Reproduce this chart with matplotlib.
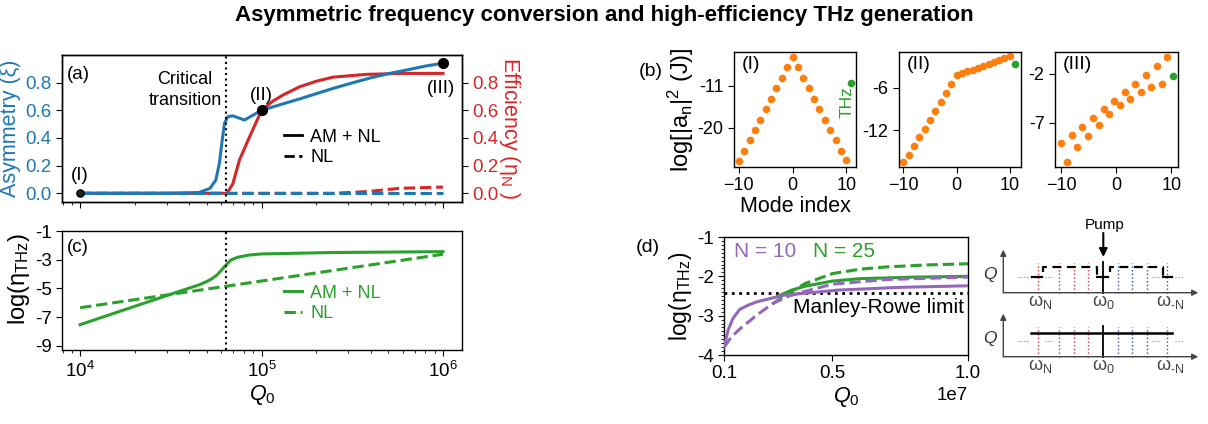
import numpy as np
import matplotlib
matplotlib.use("Agg")
import matplotlib.pyplot as plt
from matplotlib.ticker import MultipleLocator, NullFormatter, LogLocator

BLUE = "#1f77b4"
RED = "#d62728"
GREEN = "#2ca02c"
ORANGE = "#ff7f0e"
PURPLE = "#9467bd"
GREY = "#444444"

plt.rcParams.update({
    "font.family": ["Liberation Sans", "DejaVu Sans"],
    "font.size": 12.5,
    "mathtext.fontset": "custom",
    "mathtext.rm": "Liberation Sans",
    "mathtext.it": "Liberation Sans:italic",
    "axes.linewidth": 1.0,
    "xtick.major.size": 4,
    "ytick.major.size": 4,
    "xtick.minor.size": 2.5,
    "ytick.minor.size": 2.5,
    "xtick.labelsize": 12.5,
    "ytick.labelsize": 12.5,
    "lines.linewidth": 2.2,
})
LABEL = 15.5

# ---------------- data: panel (a) ----------------
q_asym = [1e4, 3e4, 4.5e4, 5.2e4, 5.6e4, 5.86e4, 6.07e4, 6.25e4, 6.52e4, 6.95e4,
          8.05e4, 1e5, 1.3e5, 1.6e5, 2e5, 2.5e5, 3.2e5, 4e5, 5e5, 6.5e5, 8e5, 1e6]
asym_amnl = [0.0, 0.0, 0.005, 0.036, 0.096, 0.22, 0.385, 0.506, 0.554, 0.56,
             0.53, 0.60, 0.645, 0.68, 0.72, 0.76, 0.80, 0.835, 0.865, 0.895, 0.92, 0.94]
q_asym_nl = [1e4, 1e6]
asym_nl = [0.0, 0.0]

q_eff = [1e4, 6.45e4, 6.95e4, 7.55e4, 8.6e4, 1e5, 1.15e5, 1.31e5, 1.62e5, 2e5, 2.48e5,
         3.78e5, 6e5, 1e6]
eff_amnl = [0.0, 0.0, 0.07, 0.24, 0.41, 0.60, 0.665, 0.71, 0.77, 0.81, 0.84,
            0.86, 0.867, 0.867]
q_eff_nl = [1e4, 2.5e5, 3.8e5, 5.8e5, 1e6]
eff_nl = [0.0, 0.0, 0.012, 0.036, 0.045]

q_marks = [1e4, 1e5, 1e6]
asym_marks = [0.0, 0.60, 0.94]
mark_labels = ["(I)", "(II)", "(III)"]
q_critical = 6.4e4

# ---------------- data: panel (c) ----------------
q_thz = [1e4, 1.95e4, 3.52e4, 4e4, 4.54e4, 5.0e4, 5.38e4, 5.7e4, 5.99e4, 6.38e4, 6.8e4,
         7.4e4, 8.5e4, 1e5, 2.48e5, 1e6]
thz_amnl = [-7.53, -6.3, -5.21, -4.98, -4.75, -4.52, -4.29, -4.05, -3.75, -3.36, -3.01,
            -2.83, -2.68, -2.6, -2.5, -2.44]
q_thz_nl = [1e4, 6.4e4, 1e6]
thz_nl = [-6.35, -4.85, -2.62]

# ---------------- data: panel (b) ----------------
mode_I = list(range(-10, 11))
pwr_I = [-27.3, -25.0, -22.7, -20.5, -18.3, -16.0, -13.8, -11.5, -9.2, -7.0, -4.7,
         -7.0, -9.2, -11.5, -13.8, -16.0, -18.3, -20.5, -22.7, -25.0, -27.0]
thz_I = (10.9, -10.35)

mode_II = list(range(-10, 11))
pwr_II = [-16.45, -15.51, -14.2, -12.98, -11.76, -10.49, -9.23, -8.02, -6.75, -5.53, -4.22,
          -3.98, -3.72, -3.46, -3.20, -2.94, -2.68, -2.42, -2.15, -1.88, -1.59]
thz_II = (11.0, -2.62)

mode_III = [-10.0, -8.97, -8.0, -7.09, -6.12, -5.15, -4.18, -3.21, -2.24, -1.27, -0.36,
            0.61, 1.58, 2.55, 3.45, 4.48, 5.45, 6.36, 7.33, 8.3, 9.21]
pwr_III = [-9.08, -10.98, -8.27, -9.52, -7.41, -8.33, -6.53, -7.21, -5.64, -6.12, -4.76,
           -5.24, -3.87, -4.59, -3.02, -3.91, -2.14, -3.37, -1.22, -3.06, -0.31]
thz_III = (10.24, -2.24)

# ---------------- data: panel (d) ----------------
q_n10_amnl = [1e6, 1.15e6, 1.33e6, 1.58e6, 1.9e6, 2.2e6, 3.2e6, 5.2e6, 7.5e6, 1e7]
n10_amnl = [-3.8, -3.37, -3.07, -2.84, -2.73, -2.65, -2.48, -2.35, -2.28, -2.24]
q_n10_nl = [1e6, 1.3e6, 1.6e6, 2.2e6, 2.8e6, 3.4e6, 4e6, 5e6, 7e6, 1e7]
n10_nl = [-3.8, -3.52, -3.33, -2.99, -2.69, -2.5, -2.38, -2.2, -2.08, -2.02]
q_n25_amnl = [3e6, 3.5e6, 4e6, 5e6, 6e6, 8e6, 1e7]
n25_amnl = [-2.5, -2.35, -2.25, -2.12, -2.06, -2.02, -2.0]
q_n25_nl = [2.8e6, 3e6, 3.5e6, 4e6, 5e6, 6e6, 7e6, 8.5e6, 1e7]
n25_nl = [-2.7, -2.6, -2.38, -2.18, -1.93, -1.82, -1.76, -1.71, -1.68]
manley_rowe = -2.42

W, H = 1208, 424
fig = plt.figure(figsize=(W / 100, H / 100), dpi=100)


def box(x0, y0, x1, y1):
    return [x0 / W, 1 - y1 / H, (x1 - x0) / W, (y1 - y0) / H]


# ================= panel (a) =================
axa = fig.add_axes(box(62, 55, 462, 202))
axa.set_xscale("log")
axa.set_xlim(10 ** 3.9, 10 ** 6.105)
axa.set_ylim(-0.063, 1.0)
axa.plot(q_asym, asym_amnl, color=BLUE, zorder=4)
axa.plot(q_asym_nl, asym_nl, color=BLUE, ls="--", zorder=4)
axa.axvline(q_critical, color="k", ls=":", lw=1.5, zorder=5)
axa.set_yticks([0.0, 0.2, 0.4, 0.6, 0.8])
axa.tick_params(axis="y", labelcolor=BLUE, labelsize=13.5)
axa.xaxis.set_major_locator(LogLocator(base=10, numticks=10))
axa.xaxis.set_minor_locator(LogLocator(base=10, subs=np.arange(2, 10), numticks=20))
axa.xaxis.set_major_formatter(NullFormatter())
axa.xaxis.set_minor_formatter(NullFormatter())
axa.set_ylabel("Asymmetry (ξ)", color=BLUE, fontsize=LABEL, labelpad=3)

axr = axa.twinx()
axr.set_ylim(-0.063, 1.0)
axr.plot(q_eff, eff_amnl, color=RED, zorder=3)
axr.plot(q_eff_nl, eff_nl, color=RED, ls="--", zorder=3)
axr.set_yticks([0.0, 0.2, 0.4, 0.6, 0.8])
axr.tick_params(axis="y", labelcolor=RED, labelsize=13.5)
axr.set_ylabel("Efficiency (η$_\\mathregular{N}$ )", color=RED, fontsize=LABEL,
               rotation=270, labelpad=17)
axa.set_zorder(axr.get_zorder() + 1)
axa.patch.set_visible(False)

axa.plot(q_marks[1:], asym_marks[1:], "o", color="k", ms=7, zorder=6)
axa.plot(q_marks[:1], asym_marks[:1], "o", mfc="#222222", mec="k", mew=1.2, ms=5, zorder=6)
axa.text(q_marks[0], 0.13, mark_labels[0], ha="center", va="center", fontsize=13.5)
axa.text(q_marks[1], 0.71, mark_labels[1], ha="center", va="center", fontsize=13.5)
axa.text(q_marks[2] * 0.97, 0.76, mark_labels[2], ha="center", va="center", fontsize=13.5)
axa.text(0.0125, 0.87, "(a)", transform=axa.transAxes, ha="left", va="center", fontsize=13.5)
axa.text(0.3075, 0.76, "Critical\ntransition", transform=axa.transAxes,
         ha="center", va="center", linespacing=1.3, fontsize=13)
la, = axa.plot([], [], color="k", lw=2, label="AM + NL")
lb, = axa.plot([], [], color="k", lw=2, ls="--", label="NL")
axa.legend(handles=[la, lb], loc="center left", bbox_to_anchor=(0.555, 0.37),
           frameon=False, handlelength=1.0, handletextpad=0.45, borderpad=0,
           labelspacing=0.2, borderaxespad=0, fontsize=13)

# ================= panel (c) =================
axc = fig.add_axes(box(62, 231, 462, 350))
axc.set_xscale("log")
axc.set_xlim(10 ** 3.9, 10 ** 6.105)
axc.set_ylim(-9.3, -1)
axc.plot(q_thz, thz_amnl, color=GREEN, label="AM + NL")
axc.plot(q_thz_nl, thz_nl, color=GREEN, ls="--", label="NL")
axc.axvline(q_critical, color="k", ls=":", lw=1.5)
axc.set_yticks([-1, -3, -5, -7, -9])
axc.set_yticklabels(["-1", "-3", "-5", "-7", "-9"])
axc.tick_params(labelsize=13.5)
axc.xaxis.set_major_locator(LogLocator(base=10, numticks=10))
axc.xaxis.set_minor_locator(LogLocator(base=10, subs=np.arange(2, 10), numticks=20))
axc.xaxis.set_minor_formatter(NullFormatter())
axc.set_xlabel("$Q_0$", fontsize=LABEL, labelpad=2)
axc.set_ylabel("log(η$_\\mathregular{THz}$)", fontsize=LABEL + 1.5, labelpad=2)
axc.yaxis.set_label_coords(-0.075, 0.6)
axc.text(0.0125, 0.86, "(c)", transform=axc.transAxes, ha="left", va="center", fontsize=13.5)
leg = axc.legend(loc="center left", bbox_to_anchor=(0.555, 0.39), frameon=False,
                 handlelength=1.0, handletextpad=0.45, borderpad=0, labelspacing=0.2,
                 borderaxespad=0, fontsize=13)
for t in leg.get_texts():
    t.set_color(GREEN)

# ================= panel (b) =================
b_specs = [
    (box(734, 52, 856, 167), mode_I, pwr_I, thz_I, (-10.9, 11.8), (-28.5, -3.66), [-11, -20], "(I)"),
    (box(899, 52, 1021, 167), mode_II, pwr_II, thz_II, (-10.8, 12.1), (-17.16, -0.98), [-6, -12], "(II)"),
    (box(1055, 52, 1178, 167), mode_III, pwr_III, thz_III, (-11.1, 11.2), (-11.53, 0.2), [-2, -7], "(III)"),
]
b_axes = []
for rect, mx, my, thz, xl, yl, yt, lab in b_specs:
    ax = fig.add_axes(rect)
    ax.plot(mx, my, "o", color=ORANGE, ms=5.5, mec="none")
    ax.plot([thz[0]], [thz[1]], "o", color=GREEN, ms=5.5, mec="none")
    ax.set_xlim(*xl)
    ax.set_ylim(*yl)
    ax.set_xticks([-10, 0, 10])
    ax.set_yticks(yt)
    ax.set_yticklabels([str(v) for v in yt])
    ax.tick_params(labelsize=13)
    ax.text(0.06, 0.89, lab, transform=ax.transAxes, ha="left", va="center", fontsize=14)
    b_axes.append(ax)
b_axes[0].set_xlabel("Mode index", fontsize=LABEL, labelpad=1)
b_axes[0].set_ylabel("log[|a$_\\mathregular{n}$|$^\\mathregular{2}$ (J)]", fontsize=LABEL + 1.5,
                     labelpad=1)
b_axes[0].text(10.07, -14.45, "THz", color=GREEN, rotation=90, ha="center",
               va="center", fontsize=12.5)

# ================= panel (d) =================
axd = fig.add_axes(box(724, 237, 968, 355))
axd.plot(q_n25_nl, n25_nl, color=GREEN, ls="--", zorder=2)
axd.plot(q_n25_amnl, n25_amnl, color=GREEN, zorder=2)
axd.plot(q_n10_nl, n10_nl, color=PURPLE, ls="--", zorder=3)
axd.plot(q_n10_amnl, n10_amnl, color=PURPLE, zorder=3)
axd.axhline(manley_rowe, color="k", ls=":", lw=2, zorder=1)
axd.set_xlim(1e6, 1e7)
axd.set_ylim(-4, -1)
axd.set_xticks([1e6, 5e6, 1e7])
axd.set_yticks([-1, -2, -3, -4])
axd.set_yticklabels(["-1", "-2", "-3", "-4"])
axd.tick_params(labelsize=13.5)
axd.xaxis.get_offset_text().set_fontsize(13.5)
axd.yaxis.set_minor_locator(MultipleLocator(0.1))
axd.set_xlabel("$Q_0$", fontsize=LABEL, labelpad=2)
axd.set_ylabel("log(η$_\\mathregular{THz}$)", fontsize=LABEL + 1, labelpad=2)
axd.text(0.04, 0.88, "N = 10", color=PURPLE, transform=axd.transAxes, ha="left",
         va="center", fontsize=15)
axd.text(0.365, 0.88, "N = 25", color=GREEN, transform=axd.transAxes, ha="left",
         va="center", fontsize=15)
axd.text(0.985, 0.40, "Manley-Rowe limit", transform=axd.transAxes, ha="right",
         va="center", fontsize=15)

# ================= overlay: title, labels, schematic =================
ov = fig.add_axes([0, 0, 1, 1])
ov.set_xlim(0, W)
ov.set_ylim(H, 0)
ov.axis("off")
ov.patch.set_visible(False)
ov.text(W / 2, 15, "Asymmetric frequency conversion and high-efficiency THz generation",
        ha="center", va="center", fontsize=16, weight="bold")
ov.text(639, 72, "(b)", ha="left", va="center", fontsize=14)
ov.text(636, 247, "(d)", ha="left", va="center", fontsize=14)

# schematic of comb amplitudes
red_x = [1037.7, 1059.3, 1074.0, 1088.3]
blue_x = [1117.7, 1132.3, 1147.0, 1166.7]
w0_x = 1103.3
x_left, x_right = 1003.3, 1198.3
dots_x = [(1018, 1028), (1045, 1053), (1152, 1160), (1175, 1183)]
for base, top, dots_y in [(292.7, 263.0, 276.7), (356.7, 327.3, 340.7)]:
    ov.annotate("", xy=(x_right, base), xytext=(x_left, base),
                arrowprops=dict(arrowstyle="-|>", color=GREY, lw=1, mutation_scale=9,
                                shrinkA=0, shrinkB=0))
    ov.annotate("", xy=(x_left, base - 43), xytext=(x_left, base),
                arrowprops=dict(arrowstyle="-|>", color=GREY, lw=1, mutation_scale=9,
                                shrinkA=0, shrinkB=0))
    for x in red_x:
        ov.plot([x, x], [base, top], color="#e03030", ls=":", lw=1)
    for x in blue_x:
        ov.plot([x, x], [base, top], color="#3050b0", ls=":", lw=1)
    ov.plot([w0_x, w0_x], [base, top - 1], color="k", lw=1.3)
    for a, b in dots_x:
        ov.plot([a, b], [dots_y, dots_y], color="#888888", ls=":", lw=0.8)
    ov.text(990, base - 18, "Q", style="italic", ha="center", va="center",
            fontsize=12.5, color="#333333")
    for x, s in [(1040, "ω$_\\mathregular{N}$"), (w0_x, "ω$_\\mathregular{0}$"),
                 (1170, "ω$_\\text{-N}$")]:
        ov.text(x, base + 9, s, ha="center", va="center", fontsize=13, color=GREY)

# top: step profile (NL only)
low, high = 276.7, 266.7
for xa, xb in [(1031.7, 1041.7), (1096.7, 1108.0), (1163.3, 1171.7)]:
    ov.plot([xa, xb], [low, low], color="k", lw=1.6)
for xa, xb in [(1043.3, 1096.7), (1110.0, 1163.3)]:
    ov.plot([xa, xa, xb, xb], [low - 5, high, high, low], color="k", lw=1.6,
            ls=(0, (4, 2.5)))
# bottom: flat profile (AM + NL)
ov.plot([1030.7, 1171.7], [333.3, 333.3], color="k", lw=1.8)

ov.text(1105, 225, "Pump", ha="center", va="center", fontsize=11)
ov.annotate("", xy=(w0_x, 257), xytext=(w0_x, 233),
            arrowprops=dict(arrowstyle="-|>", color="k", lw=1.5, mutation_scale=12,
                            shrinkA=0, shrinkB=0))

fig.savefig("out.png", dpi=100)
